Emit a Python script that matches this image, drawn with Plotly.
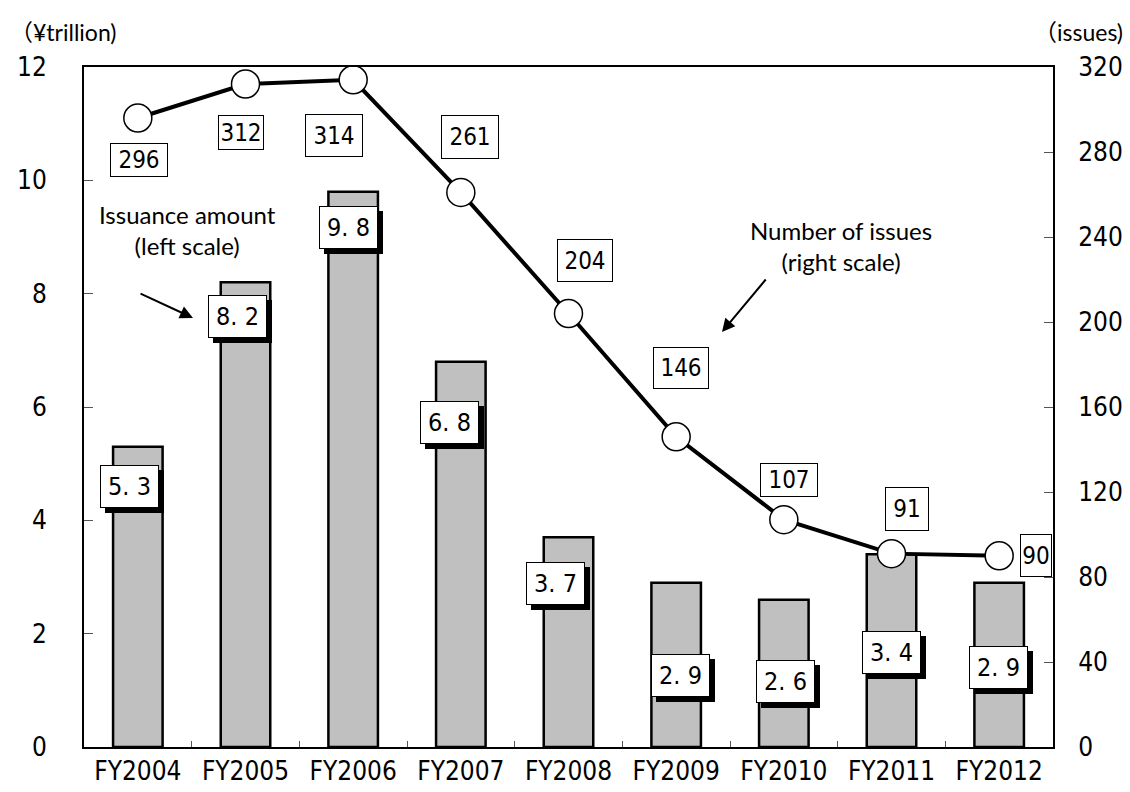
import plotly.graph_objects as go

# Fiscal years and the two series
years = ["FY2004", "FY2005", "FY2006", "FY2007", "FY2008",
         "FY2009", "FY2010", "FY2011", "FY2012"]
amount_trn = [5.3, 8.2, 9.8, 6.8, 3.7, 2.9, 2.6, 3.4, 2.9]
issues = [296, 312, 314, 261, 204, 146, 107, 91, 90]

left_ticks = [0, 2, 4, 6, 8, 10, 12]
right_ticks = [0, 40, 80, 120, 160, 200, 240, 280, 320]

# label placement (pixel offsets from the data point, box width, box height)
issue_label_pos = [(1, -42, 52, 28), (-5, -48, 40, 29), (-19, -56, 52, 37),
                   (9, 55, 52, 38), (16, 53, 50, 37), (5, 69, 50, 36),
                   (5, 40, 52, 28), (15, 45, 38, 38), (37, 0, 26, 37)]
amount_label_pos = [(-8, -40), (-8, -34), (-5, -36), (-11, -61), (-13, -46),
                    (4, -93), (2, -82), (0, -98), (-1, -85)]

NUM_FONT = "Liberation Sans Narrow, DejaVu Sans Condensed, Arial Narrow, sans-serif"
TXT_FONT = "Lato, Open Sans, Noto Sans CJK JP, sans-serif"

fig = go.Figure()

fig.add_trace(go.Bar(
    x=years, y=amount_trn, yaxis="y",
    marker=dict(color="#c0c0c0", line=dict(color="black", width=2.5)),
    width=0.46, hoverinfo="skip",
))

fig.add_trace(go.Scatter(
    x=years, y=issues, yaxis="y2", mode="lines+markers",
    line=dict(color="black", width=4),
    marker=dict(symbol="circle", size=28, color="white",
                line=dict(color="black", width=1.5)),
    hoverinfo="skip",
))

annotations = []

# number-of-issues labels: plain white boxes
for yr, n, (dx, dy, w, h) in zip(years, issues, issue_label_pos):
    annotations.append(dict(
        x=yr, y=n, xref="x", yref="y2", text=str(n), showarrow=False,
        xshift=dx, yshift=dy, width=w, height=h,
        font=dict(family=NUM_FONT, size=24, color="black"),
        bgcolor="white", bordercolor="black", borderwidth=1, borderpad=2,
    ))

# issuance-amount labels: white boxes with a black drop shadow
for yr, v, (dx, dy) in zip(years, amount_trn, amount_label_pos):
    txt = f"{v:.1f}".replace(".", ". ")
    common = dict(x=yr, y=v, xref="x", yref="y", showarrow=False,
                  width=53, height=37, borderwidth=1, borderpad=2,
                  font=dict(family=NUM_FONT, size=25, color="black"))
    # shadow box (same size, no text)
    annotations.append(dict(common, text=" ", xshift=dx + 5, yshift=dy - 5,
                            bgcolor="black", bordercolor="black"))
    annotations.append(dict(common, text=txt, xshift=dx, yshift=dy,
                            bgcolor="white", bordercolor="black"))

# series captions with arrows
cap = dict(xref="paper", yref="paper", xanchor="center", yanchor="middle",
           showarrow=False)
annotations += [
    dict(cap, x=0.107, y=0.76, text="Issuance amount<br>(left scale)",
         font=dict(family=TXT_FONT, size=24, color="black")),
    dict(x=0.1125, y=0.631, xref="paper", yref="paper", text="",
         showarrow=True, ax=-54, ay=-25, arrowhead=2, arrowsize=1.3,
         arrowwidth=2, arrowcolor="black"),
    dict(cap, x=0.781, y=0.737, text="Number of issues<br>(right scale)",
         font=dict(family=TXT_FONT, size=24, color="black")),
    dict(x=0.6584, y=0.6103, xref="paper", yref="paper", text="",
         showarrow=True, ax=45, ay=-54, arrowhead=2, arrowsize=1.3,
         arrowwidth=2, arrowcolor="black"),
    # axis units
    dict(cap, x=-0.0784, y=1.051, xanchor="left", text="（¥trillion)",
         font=dict(family=TXT_FONT, size=23, color="black")),
    dict(cap, x=1.0743, y=1.051, xanchor="right", text="（issues)",
         font=dict(family=TXT_FONT, size=23, color="black")),
]

fig.update_layout(
    width=1130, height=792,
    margin=dict(l=84, r=77, t=67, b=45, autoexpand=False),
    paper_bgcolor="white", plot_bgcolor="white",
    showlegend=False, bargap=0.54,
    annotations=annotations,
    xaxis=dict(
        type="category", range=[-0.5, len(years) - 0.5],
        showline=True, linecolor="black", linewidth=2,
        mirror=True, ticks="inside", tickson="boundaries", ticklen=6,
        tickcolor="#555", tickwidth=1, showgrid=False, automargin=False,
        tickfont=dict(family=NUM_FONT, size=26, color="black"),
    ),
    yaxis=dict(
        range=[0, 12], tickvals=left_ticks, showline=True, linecolor="black",
        linewidth=2, ticks="inside", ticklen=9, tickcolor="#555", tickwidth=1,
        showgrid=False, zeroline=False, ticklabelstandoff=30, automargin=False,
        tickfont=dict(family=NUM_FONT, size=26, color="black"),
    ),
    yaxis2=dict(
        range=[0, 320], tickvals=right_ticks, overlaying="y", side="right",
        showline=True, linecolor="black", linewidth=2, ticks="inside",
        ticklen=9, tickcolor="#555", tickwidth=1, showgrid=False,
        zeroline=False, ticklabelstandoff=18, automargin=False,
        tickfont=dict(family=NUM_FONT, size=26, color="black"),
    ),
)

fig.write_html("out.html")
